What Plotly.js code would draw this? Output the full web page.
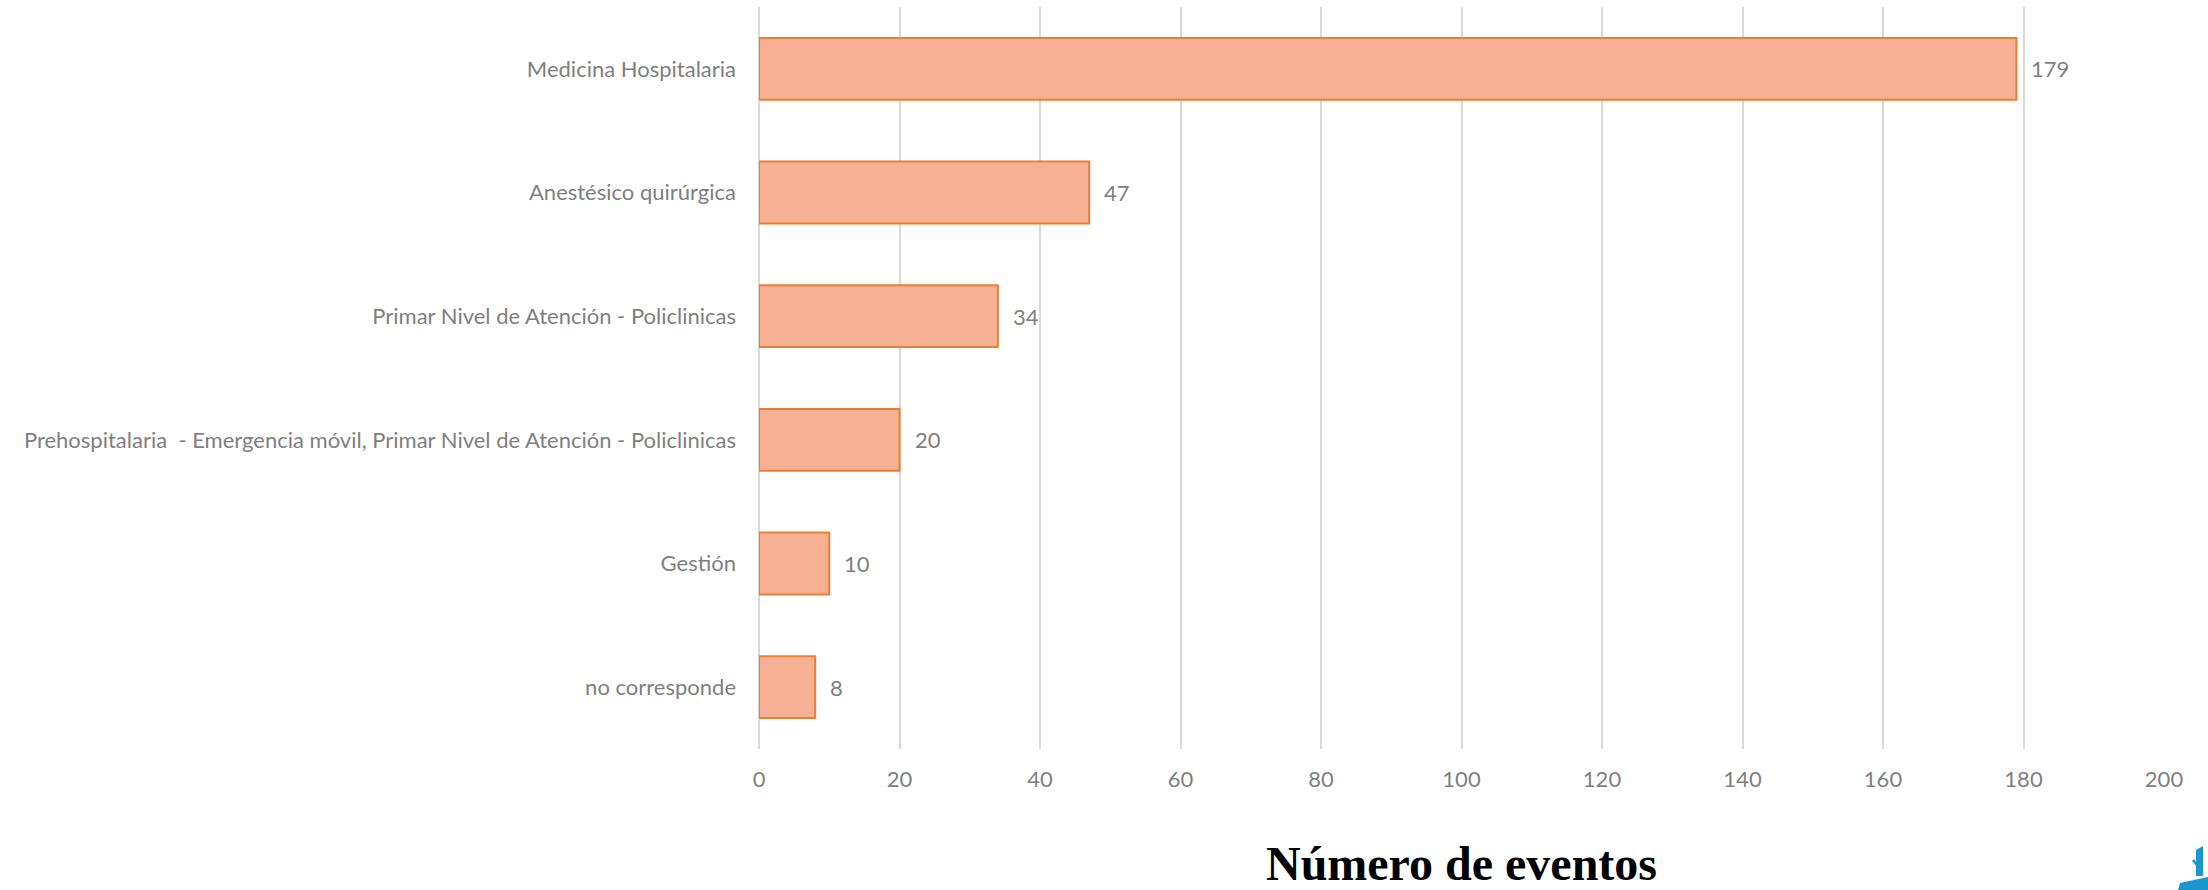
<!DOCTYPE html>
<html>
<head>
<meta charset="utf-8">
<script src="https://cdn.plot.ly/plotly-3.0.1.min.js"></script>
<style>html,body{margin:0;padding:0;background:#fff;}#chart{width:2208px;height:890px;}</style>
</head>
<body>
<div id="chart"></div>
<script>
const categories = [
  "Medicina Hospitalaria",
  "Anestésico quirúrgica",
  "Primar Nivel de Atención - Policlinicas",
  "Prehospitalaria  - Emergencia móvil, Primar Nivel de Atención - Policlinicas",
  "Gestión",
  "no corresponde"
];
const values = [179, 47, 34, 20, 10, 8];
const xTicks = [0, 20, 40, 60, 80, 100, 120, 140, 160, 180, 200];
const xTitle = "Número de eventos";

const labelFont = {family: "Lato, 'Open Sans', sans-serif", size: 22, color: "#7f7f7f"};
const cats = categories.map(c => c.replace(/  /g, "\u00a0 "));

const trace = {
  type: "bar",
  orientation: "h",
  x: values,
  y: cats,
  marker: {color: "#F6B094", line: {color: "#ED7D31", width: 2}},
  hoverinfo: "x+y"
};

const annotations = values.map((v, i) => ({
  x: v, y: cats[i], xref: "x", yref: "y",
  text: String(v), showarrow: false, xanchor: "left", yanchor: "middle",
  xshift: 13, font: labelFont
}));

const P = (px, py) => ((px - 759) / 1405).toFixed(4) + " " + ((749 - py) / 742).toFixed(4);

const layout = {
  width: 2208, height: 890,
  margin: {l: 759, r: 44, t: 7, b: 141},
  paper_bgcolor: "#ffffff", plot_bgcolor: "#ffffff",
  showlegend: false,
  bargap: 0.5,
  xaxis: {
    range: [0, 200], tickvals: xTicks, ticktext: xTicks.map(String),
    showgrid: true, gridcolor: "#D9D9D9", gridwidth: 2,
    zeroline: true, zerolinecolor: "#D9D9D9", zerolinewidth: 2,
    showline: false, ticks: "", ticklabelstandoff: 15,
    tickfont: labelFont, fixedrange: true,
    title: {text: xTitle, standoff: 58,
      font: {family: "'Liberation Serif', 'Times New Roman', serif", size: 48, color: "#000000", weight: "bold"}}
  },
  yaxis: {
    autorange: "reversed", type: "category",
    showgrid: false, zeroline: false, showline: false, ticks: "",
    ticklabelstandoff: 22, tickfont: labelFont, fixedrange: true
  },
  annotations: annotations,
  shapes: [
    {type: "path", xref: "paper", yref: "paper", layer: "above",
     path: "M " + P(2196, 850) + " L " + P(2203, 846) + " L " + P(2203, 876) + " L " + P(2196, 876) +
           " L " + P(2196, 866) + " L " + P(2192, 861) + " L " + P(2194, 859) + " L " + P(2196, 862) + " Z",
     fillcolor: "#1B96CE", line: {width: 0}},
    {type: "path", xref: "paper", yref: "paper", layer: "above",
     path: "M " + P(2180, 883) + " L " + P(2208, 877) + " L " + P(2208, 890) + " L " + P(2178, 890) + " Z",
     fillcolor: "#1B96CE", line: {width: 0}}
  ]
};

Plotly.newPlot("chart", [trace], layout, {displayModeBar: false, staticPlot: true});
</script>
</body>
</html>
